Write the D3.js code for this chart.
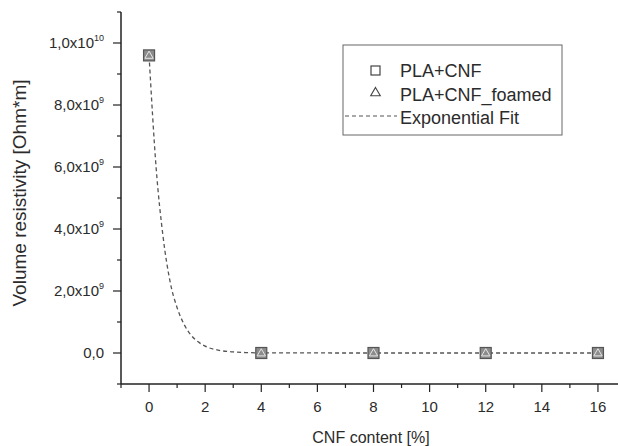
<!DOCTYPE html>
<html>
<head>
<meta charset="utf-8">
<script src="https://cdn.jsdelivr.net/npm/d3@7"></script>
<style>
  body { margin: 0; background: #fff; }
  text { font-family: "Liberation Sans", Arial, sans-serif; fill: #2b2b2b; }
</style>
</head>
<body>
<svg id="chart"></svg>
<script>
// measured points
const cnfContent = [0, 4, 8, 12, 16];
const resistivity = [9.6e9, 0, 0, 0, 0];
const resistivityFoamed = [9.6e9, 0, 0, 0, 0];

// exponential fit
const fitX = [0, 0.25, 0.5, 0.75, 1, 1.25, 1.5, 1.75, 2, 2.5, 3, 3.5, 4, 8, 12, 16];
const fitY = [9.6e9, 6.0e9, 3.75e9, 2.3e9, 1.46e9, 0.92e9, 0.57e9, 0.36e9, 0.22e9, 0.086e9, 0.034e9, 0.013e9, 0.005e9, 0, 0, 0];

const xTicks = [0, 2, 4, 6, 8, 10, 12, 14, 16];
const yTicks = [0, 2e9, 4e9, 6e9, 8e9, 1e10];
const legendLabels = ["PLA+CNF", "PLA+CNF_foamed", "Exponential Fit"];

const width = 618, height = 446;
const margin = { top: 12, right: -8, bottom: 62, left: 121 };

const svg = d3.select('#chart')
    .attr('width', width)
    .attr('height', height);

const x = d3.scaleLinear().domain([-1, 17]).range([margin.left, width - margin.right]);
const y = d3.scaleLinear().domain([-1e9, 1.1e10]).range([height - margin.bottom, margin.top]);

// fit curve
const fitData = fitX.map((d, i) => ({ x: d, y: fitY[i] }));
const line = d3.line().x(d => x(d.x)).y(d => y(d.y)).curve(d3.curveMonotoneX);
svg.append('path')
    .datum(fitData)
    .attr('d', line)
    .attr('fill', 'none')
    .attr('stroke', '#555')
    .attr('stroke-width', 1.3)
    .attr('stroke-dasharray', '4,3');

// axes
const axisColor = '#222';
const xAxisG = svg.append('g').attr('transform', `translate(0,${y.range()[0]})`);
xAxisG.append('line')
    .attr('x1', x.range()[0]).attr('x2', x.range()[1])
    .attr('stroke', axisColor).attr('stroke-width', 1.5);
xAxisG.selectAll('.minor')
    .data(d3.range(-1, 18, 2))
    .join('line')
    .attr('x1', d => x(d)).attr('x2', d => x(d))
    .attr('y1', 0).attr('y2', 4)
    .attr('stroke', axisColor).attr('stroke-width', 1.2);
xAxisG.selectAll('.major')
    .data(xTicks)
    .join('line')
    .attr('x1', d => x(d)).attr('x2', d => x(d))
    .attr('y1', 0).attr('y2', 8)
    .attr('stroke', axisColor).attr('stroke-width', 1.2);
xAxisG.selectAll('.lbl')
    .data(xTicks)
    .join('text')
    .attr('x', d => x(d))
    .attr('y', 28)
    .attr('text-anchor', 'middle')
    .attr('font-size', 15)
    .text(d => d);

const yAxisG = svg.append('g').attr('transform', `translate(${x.range()[0]},0)`);
yAxisG.append('line')
    .attr('y1', y.range()[0]).attr('y2', y.range()[1])
    .attr('stroke', axisColor).attr('stroke-width', 1.5);
yAxisG.selectAll('.minor')
    .data(d3.range(-1e9, 1.1e10 + 1, 2e9))
    .join('line')
    .attr('y1', d => y(d)).attr('y2', d => y(d))
    .attr('x1', 0).attr('x2', -4)
    .attr('stroke', axisColor).attr('stroke-width', 1.2);
yAxisG.selectAll('.major')
    .data(yTicks)
    .join('line')
    .attr('y1', d => y(d)).attr('y2', d => y(d))
    .attr('x1', 0).attr('x2', -8)
    .attr('stroke', axisColor).attr('stroke-width', 1.2);

const yLabels = yAxisG.selectAll('.lbl')
    .data(yTicks)
    .join('text')
    .attr('x', -17)
    .attr('y', d => y(d) + 5)
    .attr('text-anchor', 'end')
    .attr('font-size', 15);
yLabels.each(function (d) {
    const t = d3.select(this);
    if (d === 0) { t.text('0,0'); return; }
    const exp = Math.floor(Math.log10(d));
    const mant = (d / Math.pow(10, exp)).toFixed(1).replace('.', ',');
    t.append('tspan').text(mant + 'x10');
    t.append('tspan').attr('dy', -7).attr('font-size', 9).text(exp);
});

// axis titles
svg.append('text')
    .attr('x', 371).attr('y', 443)
    .attr('text-anchor', 'middle')
    .attr('font-size', 16)
    .text('CNF content [%]');
svg.append('text')
    .attr('transform', 'translate(26,193) rotate(-90)')
    .attr('text-anchor', 'middle')
    .attr('font-size', 19)
    .text('Volume resistivity [Ohm*m]');

// markers
const pts = cnfContent.map((d, i) => ({ x: d, y: resistivity[i], yf: resistivityFoamed[i] }));
const sq = 11;
svg.selectAll('.sq')
    .data(pts)
    .join('rect')
    .attr('x', d => x(d.x) - sq / 2)
    .attr('y', d => y(d.y) - sq / 2)
    .attr('width', sq).attr('height', sq)
    .attr('fill', '#8c8c8c')
    .attr('stroke', '#555')
    .attr('stroke-width', 1.2);
const tri = d3.symbol().type(d3.symbolTriangle).size(30);
svg.selectAll('.tri')
    .data(pts)
    .join('path')
    .attr('d', tri)
    .attr('transform', d => `translate(${x(d.x)},${y(d.yf) + 0.5})`)
    .attr('fill', 'none')
    .attr('stroke', '#e6e6e6')
    .attr('stroke-width', 1);

// legend
const lg = svg.append('g').attr('transform', 'translate(343,45)');
lg.append('rect')
    .attr('width', 219).attr('height', 90)
    .attr('fill', '#fff')
    .attr('stroke', '#666')
    .attr('stroke-width', 1);
lg.append('rect')
    .attr('x', 28).attr('y', 21).attr('width', 9).attr('height', 9)
    .attr('fill', 'none').attr('stroke', '#444').attr('stroke-width', 1.2);
lg.append('path')
    .attr('d', d3.symbol().type(d3.symbolTriangle).size(40))
    .attr('transform', 'translate(32.5,48)')
    .attr('fill', 'none').attr('stroke', '#444').attr('stroke-width', 1.1);
lg.append('line')
    .attr('x1', 2).attr('x2', 54).attr('y1', 71).attr('y2', 71)
    .attr('stroke', '#555').attr('stroke-width', 1.2)
    .attr('stroke-dasharray', '4,3');
lg.selectAll('.lt')
    .data(legendLabels)
    .join('text')
    .attr('x', 57)
    .attr('y', (d, i) => 32 + i * 23.5)
    .attr('font-size', 18)
    .text(d => d);
</script>
</body>
</html>
